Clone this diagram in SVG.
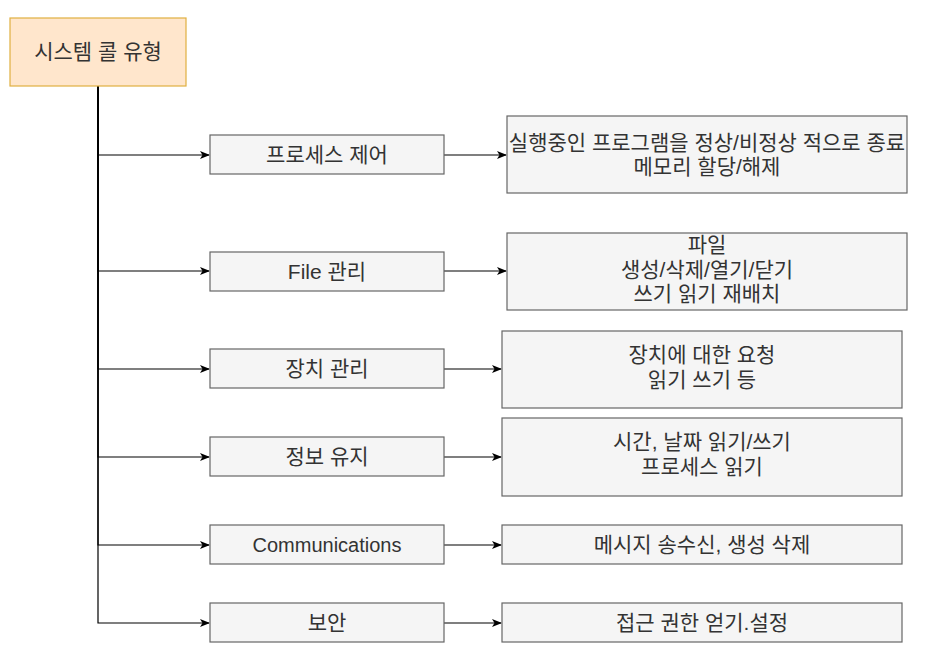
<svg xmlns="http://www.w3.org/2000/svg" width="948" height="668" viewBox="0 0 948 668">
<style>
text{font-family:"Liberation Sans","Noto Sans CJK KR",sans-serif;font-size:21px;fill:#333333;text-anchor:middle}
.box{fill:#f5f5f5;stroke:#666666;stroke-width:1.2}
.root{fill:#ffe6cc;stroke:#e0b040;stroke-width:1.2}
.c{fill:none;stroke:#000;stroke-width:1.2}
</style>
<defs>
<marker id="a" viewBox="0 0 10 8" refX="9" refY="4" markerWidth="10" markerHeight="8" markerUnits="userSpaceOnUse" orient="auto">
<path d="M0,0 L10,4 L0,8 L2.5,4 Z" fill="#000"/>
</marker>
</defs>
<rect width="948" height="668" fill="#fff"/>
<g id="connectors">
<path class="c" d="M98,86 V155 H209" marker-end="url(#a)"/>
<path class="c" d="M98,86 V271 H209" marker-end="url(#a)"/>
<path class="c" d="M98,86 V369 H209" marker-end="url(#a)"/>
<path class="c" d="M98,86 V457 H209" marker-end="url(#a)"/>
<path class="c" d="M98,86 V545 H209" marker-end="url(#a)"/>
<path class="c" d="M98,86 V623 H209" marker-end="url(#a)"/>
<path class="c" d="M444,155 H506" marker-end="url(#a)"/>
<path class="c" d="M444,271 H506" marker-end="url(#a)"/>
<path class="c" d="M444,369 H501" marker-end="url(#a)"/>
<path class="c" d="M444,457 H501" marker-end="url(#a)"/>
<path class="c" d="M444,545 H501" marker-end="url(#a)"/>
<path class="c" d="M444,623 H501" marker-end="url(#a)"/>
</g>
<g id="root"><rect class="root" x="10" y="18" width="176" height="68"/><text x="98" y="59">시스템 콜 유형</text></g>
<g id="n1"><rect class="box" x="210" y="135" width="234" height="39"/><text x="327" y="162">프로세스 제어</text></g>
<g id="n2"><rect class="box" x="210" y="252" width="234" height="39"/><text x="327" y="279">File 관리</text></g>
<g id="n3"><rect class="box" x="210" y="349" width="234" height="39"/><text x="327" y="376">장치 관리</text></g>
<g id="n4"><rect class="box" x="210" y="437" width="234" height="39"/><text x="327" y="464">정보 유지</text></g>
<g id="n5"><rect class="box" x="210" y="525" width="234" height="39"/><text x="327" y="552" style="font-size:20px">Communications</text></g>
<g id="n6"><rect class="box" x="210" y="603" width="234" height="39"/><text x="327" y="630">보안</text></g>
<g id="d1"><rect class="box" x="507" y="116" width="400" height="77"/><text x="707" y="150">실행중인 프로그램을 정상/비정상 적으로 종료</text><text x="707" y="174">메모리 할당/해제</text></g>
<g id="d2"><rect class="box" x="507" y="233" width="400" height="77"/><text x="707" y="252">파일</text><text x="707" y="277">생성/삭제/열기/닫기</text><text x="707" y="301">쓰기 읽기 재배치</text></g>
<g id="d3"><rect class="box" x="502" y="331" width="400" height="77"/><text x="702" y="362">장치에 대한 요청</text><text x="702" y="387">읽기 쓰기 등</text></g>
<g id="d4"><rect class="box" x="502" y="418" width="400" height="78"/><text x="702" y="449">시간, 날짜 읽기/쓰기</text><text x="702" y="474">프로세스 읽기</text></g>
<g id="d5"><rect class="box" x="502" y="525" width="400" height="39"/><text x="702" y="552">메시지 송수신, 생성 삭제</text></g>
<g id="d6"><rect class="box" x="502" y="603" width="400" height="39"/><text x="702" y="630">접근 권한 얻기.설정</text></g>
</svg>
